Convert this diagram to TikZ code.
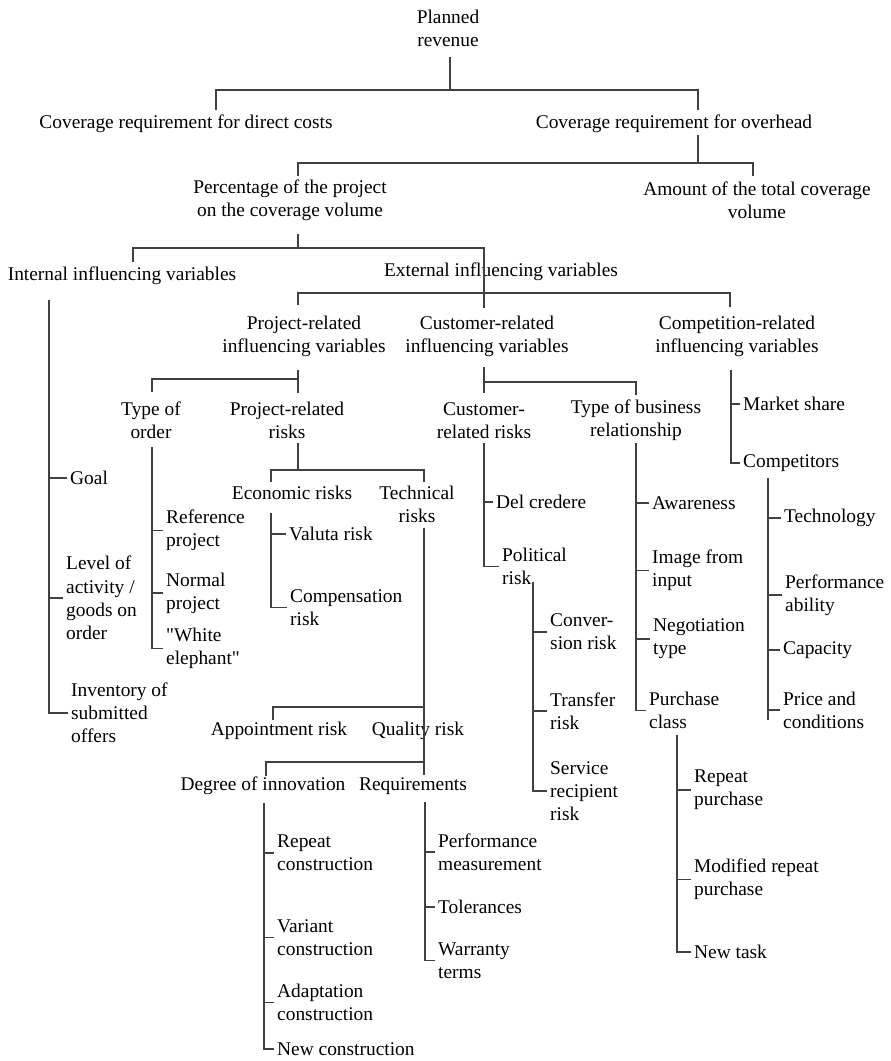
\documentclass[tikz,border=0pt]{standalone}
\usepackage{fontspec}
\setmainfont{Liberation Serif}
\newcommand{\treefont}{\fontsize{19.4}{23.2}\selectfont}
\newcommand{\dq}{\XeTeXglyph\XeTeXglyphindex "quotedbl"\relax}

\begin{document}
\begin{tikzpicture}[
  x=1pt, y=-1pt,
  cat/.style={font=\treefont, align=center, inner sep=0pt},
  leaf/.style={font=\treefont, align=left, anchor=west,
    inner xsep=3pt, inner ysep=0pt},
  branch/.style={line width=1.3pt, draw=black!75}
]
\useasboundingbox (0,0) rectangle (891,1061);

% Upper levels
\node[cat] (planned) at (448,28.5) {Planned\\revenue};
\node[cat] (cdirect) at (186,124) {Coverage requirement for direct costs};
\node[cat] (cover) at (674,124) {Coverage requirement for overhead};
\node[cat] (pct) at (290,200.5) {Percentage of the project\\on the coverage volume};
\node[cat] (amount) at (757,200.5) {Amount of the total coverage\\volume};
\node[cat] (internal) at (122,276) {Internal influencing variables};
\node[cat] (external) at (501,272) {External influencing variables};

\node[cat] (projvar) at (304,336.5) {Project-related\\influencing variables};
\node[cat] (custvar) at (487,336.5) {Customer-related\\influencing variables};
\node[cat] (compvar) at (737,336.5) {Competition-related\\influencing variables};

\node[cat] (ordertype) at (151,420) {Type of\\order};
\node[cat] (projrisk) at (287,420) {Project-related\\risks};
\node[cat] (custrisk) at (484,420.5) {Customer-\\related risks};
\node[cat] (bustype) at (636,420.5) {Type of business\\relationship};

\node[cat] (econ) at (292,493) {Economic risks};
\node[cat] (tech) at (417,504.5) {Technical\\risks};
\node[cat] (appoint) at (279,731) {Appointment risk};
\node[cat] (quality) at (418,731) {Quality risk};
\node[cat] (innov) at (263,786) {Degree of innovation};
\node[cat] (reqs) at (413,786) {Requirements};

% Leaves
\node[leaf] (goal) at (67,478) {Goal};
\node[leaf] (level) at (63,598) {Level of\\activity /\\goods on\\order};
\node[leaf] (inventory) at (68,713) {Inventory of\\submitted\\offers};

\node[leaf] (refproj) at (163,530.5) {Reference\\project};
\node[leaf] (normproj) at (163,593) {Normal\\project};
\node[leaf] (white) at (163,648.5) {\dq White\\elephant\dq};

\node[leaf] (valuta) at (286,534) {Valuta risk};
\node[leaf] (comp) at (287,607.5) {Compensation\\risk};

\node[leaf] (delcred) at (493,502) {Del credere};
\node[leaf] (political) at (499,566.5) {Political\\risk};
\node[leaf] (conversion) at (547,632) {Conver-\\sion risk};
\node[leaf] (transfer) at (547,711) {Transfer\\risk};
\node[leaf] (service) at (547,791) {Service\\recipient\\risk};

\node[leaf] (awareness) at (649,503) {Awareness};
\node[leaf] (image) at (649,570.5) {Image from\\input};
\node[leaf] (negotiation) at (650,639) {Negotiation\\type};
\node[leaf] (purchase) at (646,710.5) {Purchase\\class};
\node[leaf] (reppurch) at (691,790) {Repeat\\purchase};
\node[leaf] (modpurch) at (691,879.5) {Modified repeat\\purchase};
\node[leaf] (newtask) at (691,952) {New task};

\node[leaf] (market) at (740,404) {Market share};
\node[leaf] (competitors) at (740,463) {Competitors};
\node[leaf] (technology) at (781,518) {Technology};
\node[leaf] (perfab) at (782,595) {Performance\\ability};
\node[leaf] (capacity) at (780,650) {Capacity};
\node[leaf] (price) at (780,710) {Price and\\conditions};

\node[leaf] (repcon) at (274,853) {Repeat\\construction};
\node[leaf] (varcon) at (274,937.5) {Variant\\construction};
\node[leaf] (adapcon) at (274,1002.5) {Adaptation\\construction};
\node[leaf] (newcon) at (274,1049) {New construction};

\node[leaf] (perfmeas) at (435,852) {Performance\\measurement};
\node[leaf] (tolerances) at (435,907) {Tolerances};
\node[leaf] (warranty) at (435,960.5) {Warranty\\terms};

% Forks between categories
\draw[branch] (450,57) -- (450,90);
\draw[branch] (216,110) |- (698,90) -- (698,110);
\draw[branch] (698,135) -- (698,163);
\draw[branch] (298,176) |- (753,163) -- (753,176);
\draw[branch] (298,234) -- (298,248);
\draw[branch] (133,262) |- (484,248) -- (484,308);
\draw[branch] (298,305) |- (730,293) -- (730,307);
\draw[branch] (298,370) -- (298,393);
\draw[branch] (152,392) |- (298,379);
\draw[branch] (484,367) -- (484,393);
\draw[branch] (484,382) -| (636,395);
\draw[branch] (298,443) -- (298,470);
\draw[branch] (271,482) |- (424,470) -- (424,482);
\draw[branch] (424,528) -- (424,775);
\draw[branch] (273,720) |- (424,707);
\draw[branch] (266,776) |- (424,762);

% Bars to leaves
\coordinate (intbar) at (49,300);
\draw[branch] (intbar) |- (inventory.west);
\foreach \n in {goal,level}
  \draw[branch] (intbar |- \n.west) -- (\n.west);

\coordinate (orderbar) at (152,447);
\draw[branch] (orderbar) |- (white.west);
\foreach \n in {refproj,normproj}
  \draw[branch] (orderbar |- \n.west) -- (\n.west);

\coordinate (econbar) at (271,513);
\draw[branch] (econbar) |- (comp.west);
\draw[branch] (econbar |- valuta.west) -- (valuta.west);

\coordinate (custbar) at (484,443);
\draw[branch] (custbar) |- (political.west);
\draw[branch] (custbar |- delcred.west) -- (delcred.west);

\coordinate (polbar) at (533,582);
\draw[branch] (polbar) |- (service.west);
\foreach \n in {conversion,transfer}
  \draw[branch] (polbar |- \n.west) -- (\n.west);

\coordinate (busbar) at (636,443);
\draw[branch] (busbar) |- (purchase.west);
\foreach \n in {awareness,image,negotiation}
  \draw[branch] (busbar |- \n.west) -- (\n.west);

\coordinate (purchbar) at (677,735);
\draw[branch] (purchbar) |- (newtask.west);
\foreach \n in {reppurch,modpurch}
  \draw[branch] (purchbar |- \n.west) -- (\n.west);

\coordinate (compbar) at (731,370);
\draw[branch] (compbar) |- (competitors.west);
\draw[branch] (compbar |- market.west) -- (market.west);

\coordinate (competbar) at (768,478);
\draw[branch] (competbar) -- ++(0,242);
\foreach \n in {technology,perfab,capacity,price}
  \draw[branch] (competbar |- \n.west) -- (\n.west);

\coordinate (innovbar) at (264,803);
\draw[branch] (innovbar) |- (newcon.west);
\foreach \n in {repcon,varcon,adapcon}
  \draw[branch] (innovbar |- \n.west) -- (\n.west);

\coordinate (reqbar) at (425,802);
\draw[branch] (reqbar) |- (warranty.west);
\foreach \n in {perfmeas,tolerances}
  \draw[branch] (reqbar |- \n.west) -- (\n.west);

\end{tikzpicture}
\end{document}
